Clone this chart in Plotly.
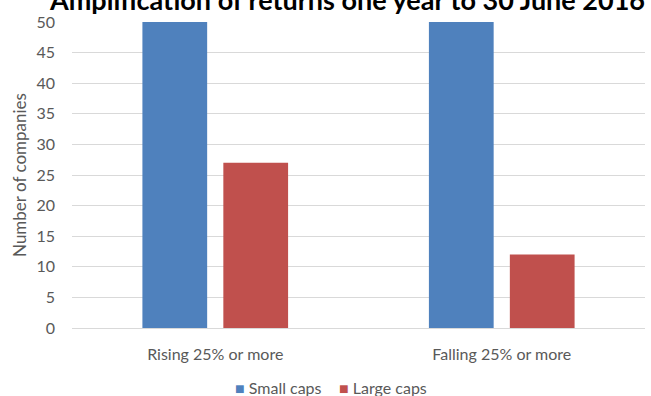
import plotly.graph_objects as go

categories = ["Rising 25% or more", "Falling 25% or more"]
small_caps = [50, 50]
large_caps = [27, 12]
y_ticks = [0, 5, 10, 15, 20, 25, 30, 35, 40, 45, 50]
series_names = ["Small caps", "Large caps"]
series_colors = ["#4F81BD", "#C0504D"]

W, H = 651, 396
font_family = "Lato, 'Open Sans', sans-serif"
grey = "#595959"

fig = go.Figure()
for name, vals, col in zip(series_names, [small_caps, large_caps], series_colors):
    fig.add_trace(go.Bar(name=name, x=categories, y=vals,
                         marker=dict(color=col, line=dict(width=0))))

# legend drawn as coloured squares followed by the series name
legend_x = [233, 337]
for name, col, lx in zip(series_names, series_colors, legend_x):
    fig.add_annotation(
        text=f"<span style='color:{col}'>■</span> {name}",
        xref="paper", yref="paper",
        x=(lx - 72) / (651 - 72 - 6), xanchor="left",
        y=-(387 - 328) / (396 - 22 - 68), yanchor="middle",
        showarrow=False, font=dict(size=16, color=grey),
    )

fig.update_layout(
    width=W, height=H,
    margin=dict(l=72, r=6, t=22, b=68),
    paper_bgcolor="white", plot_bgcolor="white",
    barmode="group", bargap=0.435, bargroupgap=0.2,
    font=dict(family=font_family, size=16, color=grey),
    title=dict(text="<b>Amplification of returns one year to 30 June 2016</b>",
               x=50 / W, xanchor="left", xref="container",
               y=1 - 1 / H, yanchor="middle", yref="container",
               font=dict(family=font_family, size=27, color="black")),
    showlegend=False,
    xaxis=dict(showgrid=False, showline=True, linecolor="#d9d9d9", linewidth=1,
               ticks="", ticklabelstandoff=12, tickfont=dict(size=16, color=grey)),
    yaxis=dict(range=[0, 50], tickvals=y_ticks, showgrid=True,
               gridcolor="#d9d9d9", gridwidth=1, zeroline=False,
               ticks="", ticklabelstandoff=16,
               tickfont=dict(size=16, color=grey),
               title=dict(text="Number of companies", standoff=5,
                          font=dict(size=17, color=grey))),
)

fig.write_html("out.html")
